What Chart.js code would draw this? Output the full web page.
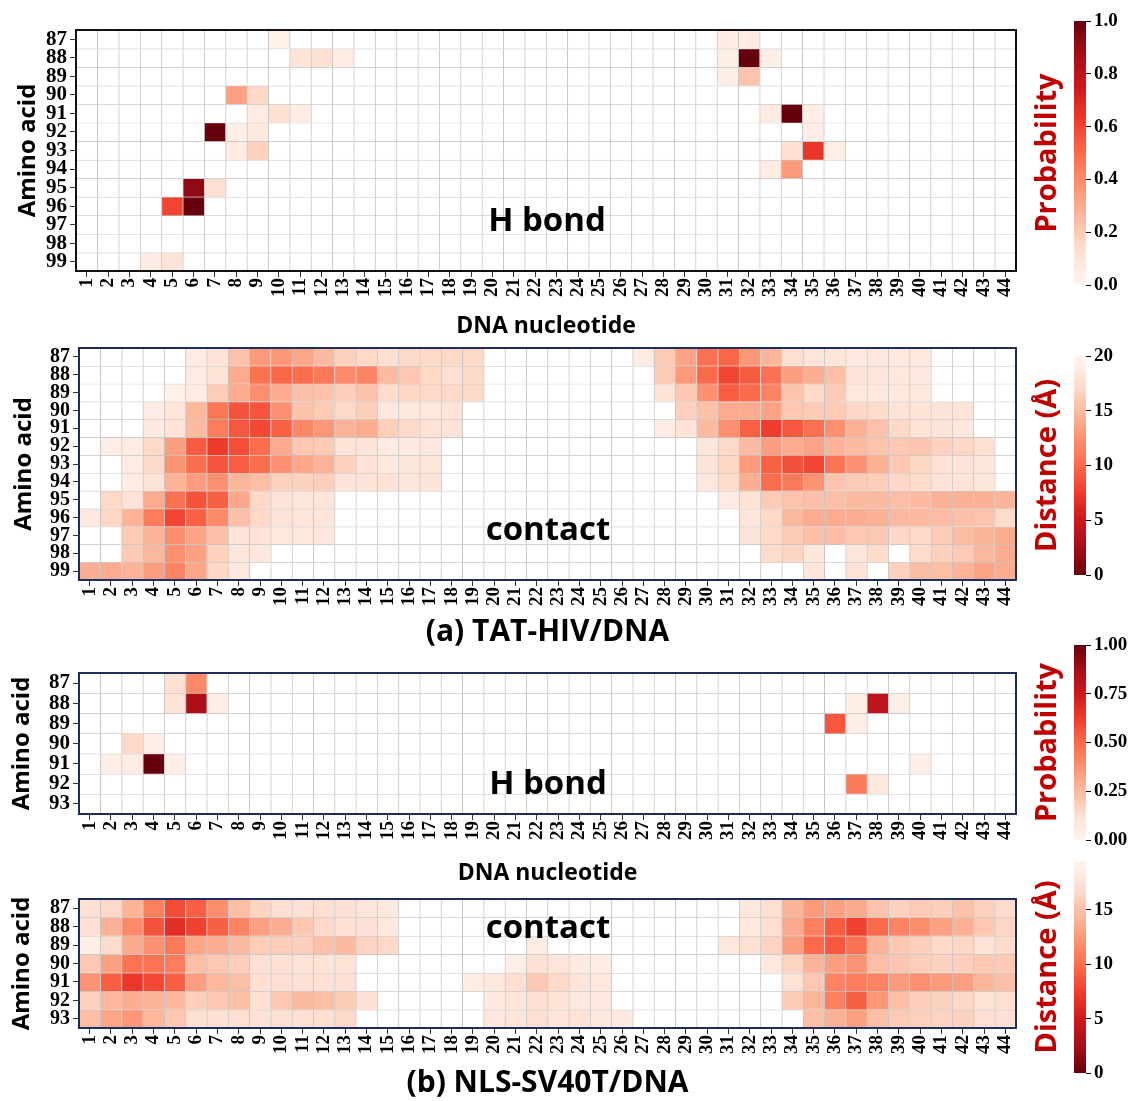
<!DOCTYPE html>
<html>
<head>
<meta charset="utf-8">
<script src="https://cdn.jsdelivr.net/npm/chart.js@4.4.1/dist/chart.umd.min.js"></script>
<style>
  html, body { margin: 0; padding: 0; background: #fff; }
  body { width: 1131px; height: 1101px; position: relative; overflow: hidden; }
  .box { position: absolute; }
  .tag { position: absolute; font-family: "Open Sans", sans-serif; font-weight: 700; font-size: 33px;
         color: #000; transform: translate(-50%, -50%); white-space: nowrap; line-height: 1; }
</style>
</head>
<body>
<div class="box" style="left:0;top:0;width:1030px;height:340px"><canvas id="hbTat"></canvas></div>
<div class="box" style="left:0;top:320px;width:1030px;height:330px"><canvas id="ctTat"></canvas></div>
<div class="box" style="left:0;top:645px;width:1030px;height:242px"><canvas id="hbSv"></canvas></div>
<div class="box" style="left:0;top:870px;width:1030px;height:231px"><canvas id="ctSv"></canvas></div>

<div class="box" style="left:1030px;top:0;width:101px;height:305px"><canvas id="cb1"></canvas></div>
<div class="box" style="left:1030px;top:330px;width:101px;height:270px"><canvas id="cb2"></canvas></div>
<div class="box" style="left:1030px;top:620px;width:101px;height:245px"><canvas id="cb3"></canvas></div>
<div class="box" style="left:1030px;top:840px;width:101px;height:261px"><canvas id="cb4"></canvas></div>

<div class="tag" style="left:547px;top:218px">H bond</div>
<div class="tag" style="left:548px;top:527px">contact</div>
<div class="tag" style="left:548px;top:781px">H bond</div>
<div class="tag" style="left:548px;top:925px">contact</div>

<script>
const _ = null;

// x categories and y rows
const nucleotides = ['1','2','3','4','5','6','7','8','9','10','11','12','13','14','15','16','17','18','19','20','21','22',
  '23','24','25','26','27','28','29','30','31','32','33','34','35','36','37','38','39','40','41','42','43','44'];
const aminoTat = [87, 88, 89, 90, 91, 92, 93, 94, 95, 96, 97, 98, 99];
const aminoSv = [87, 88, 89, 90, 91, 92, 93];

// colorbar ticks
const probTicksA = [0, 0.2, 0.4, 0.6, 0.8, 1.0];
const probTicksB = [0, 0.25, 0.5, 0.75, 1.0];
const distTicksA = [0, 5, 10, 15, 20];
const distTicksB = [0, 5, 10, 15];
const distMaxA = 20;
const distMaxB = 19.5;

// H bond probability, [nucleotide, amino acid, probability]
const hbondTat = [
  [10, 87, 0.03], [31, 87, 0.06], [32, 87, 0.05],
  [11, 88, 0.10], [12, 88, 0.12], [13, 88, 0.05], [31, 88, 0.04], [32, 88, 1.0], [33, 88, 0.04],
  [31, 89, 0.04], [32, 89, 0.22],
  [8, 90, 0.33], [9, 90, 0.15],
  [9, 91, 0.06], [10, 91, 0.12], [11, 91, 0.05], [33, 91, 0.06], [34, 91, 1.0], [35, 91, 0.04],
  [7, 92, 1.0], [8, 92, 0.04], [9, 92, 0.07], [35, 92, 0.04],
  [8, 93, 0.06], [9, 93, 0.18], [34, 93, 0.12], [35, 93, 0.65], [36, 93, 0.04],
  [33, 94, 0.05], [34, 94, 0.35],
  [6, 95, 0.92], [7, 95, 0.13],
  [5, 96, 0.60], [6, 96, 1.0],
  [4, 99, 0.06], [5, 99, 0.10]
];
const hbondSv = [
  [5, 87, 0.12], [6, 87, 0.40],
  [5, 88, 0.10], [6, 88, 0.85], [7, 88, 0.04], [37, 88, 0.04], [38, 88, 0.80], [39, 88, 0.04],
  [36, 89, 0.55], [37, 89, 0.04],
  [3, 90, 0.15], [4, 90, 0.04],
  [2, 91, 0.04], [3, 91, 0.05], [4, 91, 1.0], [5, 91, 0.04], [40, 91, 0.04],
  [37, 92, 0.45], [38, 92, 0.08]
];

// contact distance (Å), one row per amino acid, 44 nucleotides; _ = no contact
const contactTat = [
  [_,_,_,_,_,19,18,15.5,13,12.8,13.8,15,16.5,17,17.5,17,17,17,17,_,_,_,_,_,_,_,18.8,16,13.5,10.5,9.8,12.8,14.7,17.5,18.1,18.1,18.7,18.5,18.6,18.6,_,_,_,_],
  [_,_,_,_,_,19,17.8,14,10.5,9.8,10.3,11,12,11.7,15,15.8,17,17.5,17,_,_,_,_,_,_,_,_,16,13,10,8,9.2,10.5,13.2,14.2,15.2,18,18.2,18.5,18.7,_,_,_,_],
  [_,_,_,_,19.5,18.8,16.2,14,12.3,14,15.3,15.5,16.3,15.5,17.2,16.8,17,17,17,_,_,_,_,_,_,_,_,17.8,15.8,12.4,9.3,10,11.6,15.6,17,16,18.5,18.4,18.4,18.3,_,_,_,_],
  [_,_,_,18.8,18.2,14.8,10.8,8.8,8.9,12.4,15.5,16,17,16.3,18.5,18.5,18.3,18,_,_,_,_,_,_,_,_,_,_,16.5,15.4,14,14,13.5,15.8,16,16,16.9,17.2,17.8,17.8,18,18.1,_,_],
  [_,_,_,18.7,17.8,15,11.2,9,8.2,9.5,11.8,12.8,14.5,14,16.3,17,17.8,18,_,_,_,_,_,_,_,_,_,18.9,17.8,15,12.3,9.5,7.6,9,10.4,12.3,14.3,15.5,17,17.8,18,18.3,_,_],
  [_,19.2,18.8,17,13.3,9.2,7.5,8.5,10.2,14,15.8,16,17.9,17.9,18.8,18.7,18.5,_,_,_,_,_,_,_,_,_,_,_,_,18.2,17,15,13.3,14,13.5,14.5,15,15.6,15.9,15.7,16.6,16.9,17.5,_],
  [_,_,18.8,17,12.6,10.3,8.9,9.3,10.3,12.4,13.8,14.5,16.6,17.8,18.3,18.2,18.1,_,_,_,_,_,_,_,_,_,_,_,_,18,16.8,13,9.5,8.6,8.1,10.6,12.3,14.3,15.8,16.8,17.8,18,18.2,_],
  [_,_,18.9,17.8,14.5,13.2,12.4,14.7,15.2,16.5,16.6,16.3,18,17.8,17.8,18.1,18,_,_,_,_,_,_,_,_,_,_,_,_,18.5,17.2,14.2,10.2,11,12.6,15.6,16,16.3,16.9,17.2,17.8,17.9,18.2,_],
  [_,17,17.8,14,10.5,8.7,9.4,13.8,17,18,18.2,18.1,_,_,_,_,_,_,_,_,_,_,_,_,_,_,_,_,_,_,18.8,17.8,16,15.6,15.3,15.2,15,15,15.2,15,14.4,14.3,14.3,14.6],
  [18.7,16.8,14.5,11.2,8,9.5,12,15.3,17,18,18.1,18.2,_,_,_,_,_,_,_,_,_,_,_,_,_,_,_,_,_,_,_,18.2,17,14.8,14,14,14.1,14.4,14.9,14.9,15.1,15.3,15.6,17.2],
  [_,_,16,14.5,12.2,13.5,15.3,18,17.8,18.4,18.5,18.4,_,_,_,_,_,_,_,_,_,_,_,_,_,_,_,_,_,_,_,18,17,16,15.3,15.1,15.9,15.9,16.9,17.1,16,15.1,14.6,14],
  [_,_,16,14.8,12.4,13.4,16.6,18.1,18.5,_,_,_,_,_,_,_,_,_,_,_,_,_,_,_,_,_,_,_,_,_,_,_,17.2,16.7,18.2,_,18.2,17.2,_,17.2,16.5,16,14.8,14],
  [14.2,14,14.5,13.2,11.6,13.8,16.9,18.5,_,_,_,_,_,_,_,_,_,_,_,_,_,_,_,_,_,_,_,_,_,_,_,_,_,_,18.2,_,17.8,_,16.5,15.1,15.2,14.5,13.5,14]
];
const contactSv = [
  [17.2,16.6,14.2,11.1,8.2,9.2,11.9,14.8,16.2,17,17.2,17.1,17.2,17.6,18.1,_,_,_,_,_,_,_,_,_,_,_,_,_,_,_,_,17.9,17,14.2,12.7,13,13.6,15.2,16.1,15.6,15.9,15,16,16.8],
  [17.2,14,11.7,8.6,6.4,7.6,9.2,11.3,13,13.8,15.4,16.6,17.1,17.2,18,_,_,_,_,_,_,_,_,_,_,_,_,_,_,_,_,18,17,13.6,11.1,9,7.6,9.8,11.3,11.9,13,13.9,15.4,16.4],
  [18.7,16.8,13.6,12.1,10.7,13.3,13.8,14.6,15.8,15.8,15.9,15,14.6,16.2,16.6,_,_,_,_,_,_,18.5,_,_,_,_,_,_,_,_,17.9,17.1,16.3,12.9,9.8,8.8,10.1,14.1,15.4,15.9,16.7,16.4,17.3,16.8],
  [15.4,13,10.3,10.3,10.9,14.8,15.4,15.8,17.2,17.2,17.3,17.5,17.3,_,_,_,_,_,_,_,18.7,17.2,17.6,18.2,18.4,_,_,_,_,_,_,_,18.1,16.2,14.2,12.9,12.3,14.8,15.3,15.9,16.1,15.9,15.4,15.6],
  [12.3,9.2,7,8,9.2,12.9,14.4,14.8,17,17.1,17.2,17.3,17.2,_,_,_,_,_,18.4,17.9,17.1,15.5,16.6,17.6,18,_,_,_,_,_,_,_,_,17.3,15.5,11.3,10.9,11.3,12.7,12,12.7,13,14.3,14.9],
  [16,14.4,13.8,14.2,14.6,15.9,15.4,14.8,17,15.5,14.6,14.8,15.6,17.2,_,_,_,_,_,18.2,17.6,17,17.4,18,18.2,_,_,_,_,_,_,_,_,15.6,14.3,11.1,9.2,12.5,14.8,15.9,16.1,16.4,17.3,17],
  [14.8,13.3,12.5,14.4,15.4,17.1,17.2,17.1,17.3,17.1,17.2,17,16.6,_,_,_,_,_,_,17.9,17.6,17,17.6,17.4,18.1,18.2,_,_,_,_,_,_,_,_,14.8,14,13,14.8,15.6,16,16.2,16.1,17,17.2]
];

// matplotlib "Reds"
const redsStops = ['#fff5f0', '#fee0d2', '#fcbba1', '#fc9272', '#fb6a4a', '#ef3b2c', '#cb181d', '#a50f15', '#67000d'];

function hexRgb(h) {
  return [parseInt(h.slice(1, 3), 16), parseInt(h.slice(3, 5), 16), parseInt(h.slice(5, 7), 16)];
}

function reds(t) {
  t = Math.max(0, Math.min(1, t));
  const p = t * (redsStops.length - 1);
  const i = Math.min(Math.floor(p), redsStops.length - 2);
  const f = p - i;
  const a = hexRgb(redsStops[i]), b = hexRgb(redsStops[i + 1]);
  const c = a.map((v, k) => Math.round(v + (b[k] - v) * f));
  return `rgb(${c[0]},${c[1]},${c[2]})`;
}

// sparse list -> rows x nucleotides grid
function toGrid(list, rows) {
  const grid = rows.map(() => nucleotides.map(() => null));
  list.forEach(([n, r, p]) => { grid[rows.indexOf(r)][n - 1] = p; });
  return grid;
}

const framePlugin = {
  id: 'frame',
  afterDraw(chart, args, opts) {
    const a = chart.chartArea;
    const ctx = chart.ctx;
    ctx.save();
    ctx.strokeStyle = opts.color || '#000';
    ctx.lineWidth = 2;
    ctx.strokeRect(a.left, a.top, a.right - a.left, a.bottom - a.top);
    ctx.restore();
  }
};

const serif = '"Liberation Serif", "Times New Roman", serif';
const sans = '"Open Sans", sans-serif';

function heatmap(id, rows, grid, toT, o) {
  const datasets = rows.map((r, i) => ({
    data: nucleotides.map(() => [r - 0.5, r + 0.5]),
    backgroundColor: grid[i].map(v => v == null ? '#ffffff' : reds(toT(v))),
    borderColor: '#c6c6c6',
    borderWidth: { top: 1, left: 1, right: 0, bottom: 0 },
    borderSkipped: false,
    barPercentage: 1,
    categoryPercentage: 1,
    grouped: false
  }));

  new Chart(document.getElementById(id), {
    type: 'bar',
    data: { labels: nucleotides, datasets: datasets },
    options: {
      responsive: true,
      maintainAspectRatio: false,
      animation: false,
      events: [],
      layout: { padding: { top: o.top, right: 14, left: 0, bottom: 0 } },
      plugins: { legend: { display: false }, tooltip: { enabled: false }, frame: { color: o.frame } },
      scales: {
        x: {
          type: 'category',
          offset: true,
          grid: { offset: false, drawOnChartArea: false, drawTicks: true, tickLength: 6, color: '#333' },
          border: { display: false },
          ticks: { autoSkip: false, maxRotation: 90, minRotation: 90, padding: 1, color: '#000',
                   font: { family: serif, weight: 'bold', size: 19 } },
          title: { display: true, text: o.xTitle, color: '#000', padding: { top: 0, bottom: 0 },
                   font: { family: sans, weight: 'bold', size: o.xTitleSize } },
          afterFit: s => { s.height = o.xHeight; }
        },
        y: {
          type: 'linear',
          reverse: true,
          min: rows[0] - 0.5,
          max: rows[rows.length - 1] + 0.5,
          afterBuildTicks: s => { s.ticks = rows.map(v => ({ value: v })); },
          grid: { drawOnChartArea: false, drawTicks: true, tickLength: 6, color: '#333' },
          border: { display: false },
          ticks: { autoSkip: false, padding: 3, color: '#000', font: { family: serif, weight: 'bold', size: o.yFont } },
          title: { display: true, text: 'Amino acid', color: '#000', padding: { top: o.titlePad, bottom: 0 },
                   font: { family: sans, weight: 'bold', size: 24 } },
          afterFit: s => { s.width = o.yWidth; }
        }
      }
    },
    plugins: [framePlugin]
  });
}

function colorbar(id, lo, hi, ticks, title, reversed, fmt, padTop, padBottom) {
  new Chart(document.getElementById(id), {
    type: 'bar',
    data: {
      labels: [''],
      datasets: [{
        data: [[lo, hi]],
        barPercentage: 1,
        categoryPercentage: 1,
        borderWidth: 0,
        backgroundColor: c => {
          const y = c.chart.scales.y;
          if (!c.chart.chartArea || !y) return '#fff';
          const g = c.chart.ctx.createLinearGradient(0, y.getPixelForValue(lo), 0, y.getPixelForValue(hi));
          for (let k = 0; k <= 32; k++) {
            const s = k / 32;
            g.addColorStop(s, reds(reversed ? 1 - s : s));
          }
          return g;
        }
      }]
    },
    options: {
      responsive: true,
      maintainAspectRatio: false,
      animation: false,
      events: [],
      layout: { padding: { top: padTop, bottom: padBottom, left: 0, right: 0 } },
      plugins: { legend: { display: false }, tooltip: { enabled: false } },
      scales: {
        x: { display: false },
        t: {
          type: 'linear', position: 'left', display: true, min: 0, max: 1,
          ticks: { display: false }, grid: { display: false }, border: { display: false },
          title: { display: true, text: title, color: '#c00000', padding: { top: 0, bottom: 0 },
                   font: { family: sans, weight: 'bold', size: 29 } },
          afterFit: s => { s.width = 44; }
        },
        y: {
          type: 'linear', position: 'right', min: lo, max: hi,
          afterBuildTicks: s => { s.ticks = ticks.map(v => ({ value: v })); },
          grid: { drawOnChartArea: false, drawTicks: true, tickLength: 5, color: '#000' },
          border: { display: false },
          ticks: { autoSkip: false, padding: 3, color: '#000', callback: fmt,
                   font: { family: serif, weight: 'bold', size: 19 } },
          afterFit: s => { s.width = 45; }
        }
      }
    }
  });
}

const probT = v => v;
const distTA = v => 1 - v / distMaxA;
const distTB = v => 1 - v / distMaxB;

heatmap('hbTat', aminoTat, toGrid(hbondTat, aminoTat), probT,
  { top: 30, xHeight: 69, yWidth: 76, yFont: 21, titlePad: 14, xTitle: 'DNA nucleotide', xTitleSize: 23, frame: '#111' });
heatmap('ctTat', aminoTat, contactTat, distTA,
  { top: 28, xHeight: 70, yWidth: 79, yFont: 20, titlePad: 10, xTitle: '(a) TAT-HIV/DNA', xTitleSize: 30, frame: '#1f2d5c' });
heatmap('hbSv', aminoSv, toGrid(hbondSv, aminoSv), probT,
  { top: 28, xHeight: 73, yWidth: 79, yFont: 21, titlePad: 8, xTitle: 'DNA nucleotide', xTitleSize: 23, frame: '#1f2d5c' });
heatmap('ctSv', aminoSv, contactSv, distTB,
  { top: 29, xHeight: 73, yWidth: 79, yFont: 20, titlePad: 8, xTitle: '(b) NLS-SV40T/DNA', xTitleSize: 30, frame: '#1f2d5c' });

colorbar('cb1', 0, 1, probTicksA, 'Probability', false, v => v.toFixed(1), 21, 20);
colorbar('cb2', 0, distMaxA, distTicksA, 'Distance (Å)', true, v => String(v), 26, 25);
colorbar('cb3', 0, 1, probTicksB, 'Probability', false, v => v.toFixed(2), 25, 25);
colorbar('cb4', 0, distMaxB, distTicksB, 'Distance (Å)', true, v => String(v), 21, 28);
</script>
</body>
</html>
